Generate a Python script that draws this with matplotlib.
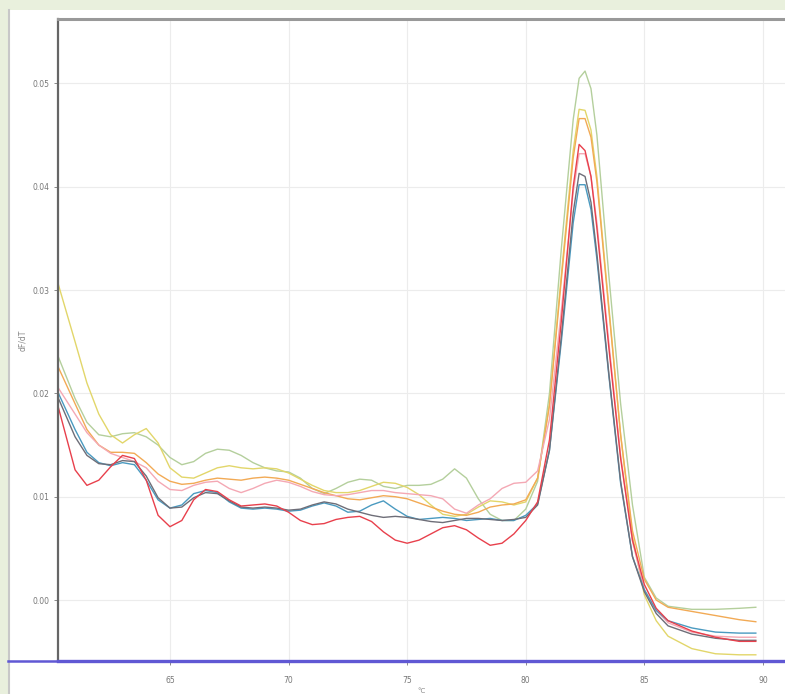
import numpy as np
import matplotlib
matplotlib.use("Agg")
import matplotlib.pyplot as plt
from matplotlib.lines import Line2D
from matplotlib.patches import Rectangle

# Temperature axis (°C)
temps = [60.3, 61, 61.5, 62, 62.5, 63, 63.5, 64, 64.5, 65, 65.5, 66, 66.5, 67, 67.5,
         68, 68.5, 69, 69.5, 70, 70.5, 71, 71.5, 72, 72.5, 73, 73.5, 74, 74.5, 75,
         75.5, 76, 76.5, 77, 77.5, 78, 78.5, 79, 79.5, 80,
         80.5, 81, 81.5, 82, 82.25, 82.5, 82.75, 83, 83.5, 84, 84.5, 85, 85.5, 86,
         87, 88, 89, 89.7]

green = [0.0235, 0.0195, 0.0172, 0.0160, 0.0158, 0.0161, 0.0162, 0.0158, 0.0150, 0.0138,
         0.0131, 0.0134, 0.0142, 0.0146, 0.0145, 0.0140, 0.0133, 0.0128, 0.0125, 0.0124,
         0.0118, 0.0108, 0.0103, 0.0108, 0.0114, 0.0117, 0.0116, 0.0110, 0.0108, 0.0111,
         0.0111, 0.0112, 0.0117, 0.0127, 0.0118, 0.0098, 0.0083, 0.0077, 0.0077, 0.0088,
         0.0115, 0.0200, 0.0340, 0.0465, 0.0505, 0.0512, 0.0495, 0.0450, 0.0315, 0.0190,
         0.0092, 0.0022, 0.0002, -0.0006, -0.0009, -0.0009, -0.0008, -0.0007]

yellow = [0.0305, 0.0250, 0.0210, 0.0180, 0.0160, 0.0152, 0.0160, 0.0166, 0.0152, 0.0128,
          0.0119, 0.0118, 0.0123, 0.0128, 0.0130, 0.0128, 0.0127, 0.0128, 0.0127, 0.0123,
          0.0117, 0.0111, 0.0106, 0.0104, 0.0104, 0.0106, 0.0110, 0.0114, 0.0113, 0.0109,
          0.0102, 0.0092, 0.0083, 0.0081, 0.0083, 0.0090, 0.0096, 0.0095, 0.0092, 0.0095,
          0.0118, 0.0190, 0.0315, 0.0435, 0.0475, 0.0474, 0.0455, 0.0410, 0.0285, 0.0160,
          0.0062, 0.0005, -0.0020, -0.0035, -0.0047, -0.0052, -0.0053, -0.0053]

orange = [0.0225, 0.0190, 0.0165, 0.0150, 0.0143, 0.0143, 0.0142, 0.0133, 0.0122, 0.0115,
          0.0112, 0.0113, 0.0116, 0.0118, 0.0117, 0.0116, 0.0118, 0.0119, 0.0118, 0.0116,
          0.0112, 0.0108, 0.0104, 0.0101, 0.0098, 0.0097, 0.0099, 0.0101, 0.0100, 0.0098,
          0.0094, 0.0090, 0.0086, 0.0083, 0.0082, 0.0085, 0.0090, 0.0092, 0.0093, 0.0097,
          0.0118, 0.0188, 0.0310, 0.0428, 0.0466, 0.0466, 0.0448, 0.0405, 0.0282, 0.0160,
          0.0067, 0.0020, 0.0000, -0.0007, -0.0011, -0.0015, -0.0019, -0.0021]

pink = [0.0205, 0.0180, 0.0162, 0.0150, 0.0142, 0.0138, 0.0134, 0.0128, 0.0115, 0.0107,
        0.0106, 0.0111, 0.0114, 0.0115, 0.0108, 0.0104, 0.0108, 0.0113, 0.0116, 0.0114,
        0.0110, 0.0105, 0.0102, 0.0101, 0.0102, 0.0104, 0.0106, 0.0106, 0.0104, 0.0103,
        0.0102, 0.0101, 0.0098, 0.0088, 0.0084, 0.0092, 0.0098, 0.0108, 0.0113, 0.0114,
        0.0125, 0.0175, 0.0280, 0.0395, 0.0432, 0.0432, 0.0410, 0.0365, 0.0250, 0.0140,
        0.0057, 0.0010, -0.0010, -0.0022, -0.0031, -0.0035, -0.0036, -0.0036]

red = [0.0186, 0.0126, 0.0111, 0.0116, 0.0129, 0.0140, 0.0137, 0.0116, 0.0082, 0.0071,
       0.0077, 0.0097, 0.0107, 0.0105, 0.0097, 0.0091, 0.0092, 0.0093, 0.0091, 0.0085,
       0.0077, 0.0073, 0.0074, 0.0078, 0.0080, 0.0081, 0.0076, 0.0066, 0.0058, 0.0055,
       0.0058, 0.0064, 0.0070, 0.0072, 0.0068, 0.0060, 0.0053, 0.0055, 0.0064, 0.0077,
       0.0095, 0.0155, 0.0270, 0.0400, 0.0441, 0.0435, 0.0410, 0.0360, 0.0245, 0.0137,
       0.0058, 0.0015, -0.0008, -0.0020, -0.0030, -0.0036, -0.0040, -0.0040]

teal = [0.0200, 0.0165, 0.0143, 0.0133, 0.0130, 0.0133, 0.0131, 0.0116, 0.0097, 0.0089,
        0.0092, 0.0103, 0.0106, 0.0104, 0.0095, 0.0089, 0.0088, 0.0089, 0.0088, 0.0086,
        0.0087, 0.0091, 0.0094, 0.0091, 0.0085, 0.0086, 0.0092, 0.0096, 0.0088, 0.0081,
        0.0078, 0.0079, 0.0080, 0.0079, 0.0077, 0.0078, 0.0079, 0.0077, 0.0077, 0.0082,
        0.0093, 0.0145, 0.0250, 0.0365, 0.0402, 0.0402, 0.0378, 0.0330, 0.0218, 0.0113,
        0.0042, 0.0010, -0.0010, -0.0020, -0.0027, -0.0031, -0.0032, -0.0032]

dark = [0.0195, 0.0158, 0.0140, 0.0132, 0.0131, 0.0135, 0.0134, 0.0120, 0.0099, 0.0089,
        0.0090, 0.0099, 0.0104, 0.0103, 0.0096, 0.0090, 0.0089, 0.0090, 0.0089, 0.0087,
        0.0088, 0.0092, 0.0095, 0.0093, 0.0088, 0.0085, 0.0082, 0.0080, 0.0081, 0.0080,
        0.0078, 0.0076, 0.0075, 0.0077, 0.0079, 0.0079, 0.0078, 0.0077, 0.0078, 0.0080,
        0.0092, 0.0145, 0.0255, 0.0375, 0.0413, 0.0410, 0.0385, 0.0335, 0.0220, 0.0115,
        0.0042, 0.0008, -0.0013, -0.0025, -0.0033, -0.0037, -0.0039, -0.0039]

series = [
    (green, "#b4cf9c"),
    (yellow, "#e2d66a"),
    (orange, "#f2aa55"),
    (pink, "#f4a8b4"),
    (teal, "#4a9ac0"),
    (dark, "#6e6e78"),
    (red, "#e8404c"),
]

yticks = [0.00, 0.01, 0.02, 0.03, 0.04, 0.05]
xticks = [65, 70, 75, 80, 85, 90]

W, H = 785, 694
fig = plt.figure(figsize=(W / 100, H / 100), dpi=100)
fig.patch.set_facecolor("#e9f0dd")

# white panel behind everything
fig.patches.append(Rectangle((10 / W, 0), 1, (H - 10) / H, transform=fig.transFigure,
                             facecolor="white", edgecolor="none", zorder=-5))
fig.lines.append(Line2D([9 / W, 9 / W], [0, (H - 10) / H], transform=fig.transFigure,
                        color="#c8c8c8", lw=1.5, zorder=-4))

left, right, top, bottom = 58, 785, 19, 661
ax = fig.add_axes([left / W, (H - bottom) / H, (right - left) / W, (bottom - top) / H])
ax.set_facecolor("white")

for vals, col in series:
    ax.plot(temps, vals, color=col, lw=1.0, solid_joinstyle="round")

ax.set_xlim(60.28, 90.93)
ax.set_ylim(-0.0059, 0.05624)
ax.set_xticks(xticks)
ax.set_yticks(yticks)
ax.set_xticklabels([str(t) for t in xticks])
ax.set_yticklabels([f"{t:.2f}" for t in yticks])
ax.grid(True, color="#ececec", lw=0.8)
ax.set_axisbelow(True)
ax.tick_params(axis="both", labelsize=5.5, colors="#777777", length=3, width=0.6)
ax.tick_params(axis="y", pad=3)
ax.tick_params(axis="x", pad=8)

ax.spines["right"].set_visible(False)
ax.spines["left"].set_color("#666666")
ax.spines["left"].set_linewidth(1.6)
ax.spines["top"].set_color("#999999")
ax.spines["top"].set_linewidth(2.2)
ax.spines["bottom"].set_color("#6058d4")
ax.spines["bottom"].set_linewidth(2.4)

# blue baseline extending across panel
fig.lines.append(Line2D([8 / W, 1], [(H - bottom) / H, (H - bottom) / H],
                        transform=fig.transFigure, color="#6058d4", lw=1.8))

ax.set_xlabel("°C", fontsize=5, color="#888888", labelpad=2)
ax.set_ylabel("dF/dT", fontsize=5.5, color="#888888")
ax.yaxis.set_label_coords(-31 / (right - left), 0.5)

fig.savefig("out.png", dpi=100, facecolor=fig.get_facecolor())
